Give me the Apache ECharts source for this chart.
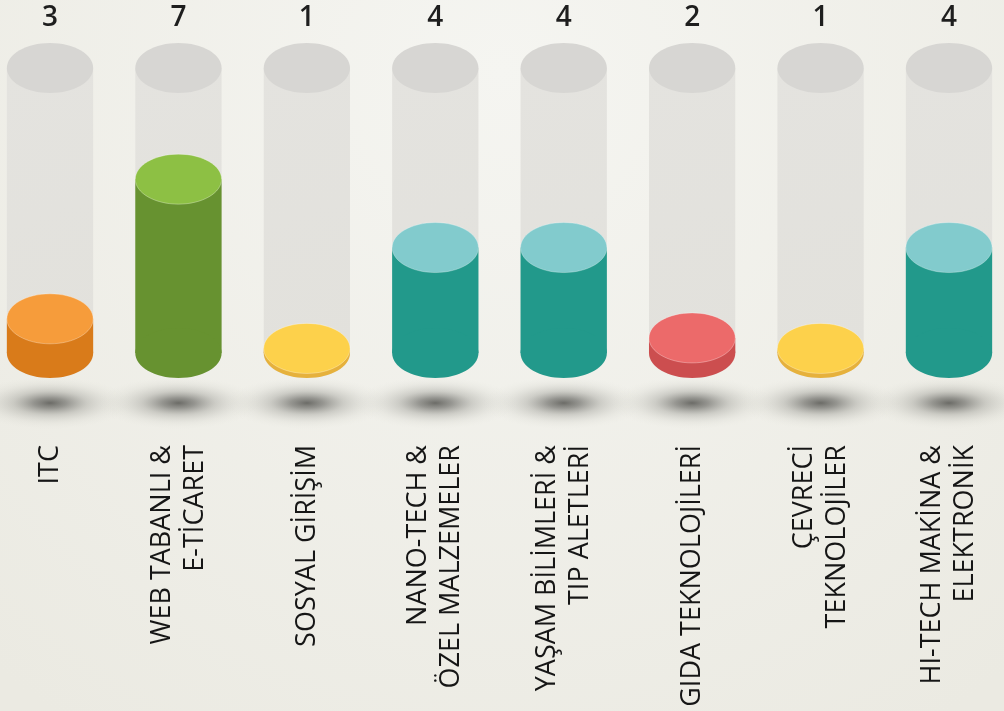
<!DOCTYPE html>
<html><head><meta charset="utf-8">
<script src="https://cdn.jsdelivr.net/npm/echarts@6/dist/echarts.min.js"></script>
<style>html,body{margin:0;padding:0;background:#f1f0ea}#c{width:1004px;height:711px}</style>
</head><body><div id="c"></div>
<script>
// ---- data ----
const categories = [
  'ITC',
  'WEB TABANLI &\nE-TİCARET',
  'SOSYAL GİRİŞİM',
  'NANO-TECH &\nÖZEL MALZEMELER',
  'YAŞAM BİLİMLERİ &\nTIP ALETLERİ',
  'GIDA TEKNOLOJİLERİ',
  'ÇEVRECİ\nTEKNOLOJİLER',
  'HI-TECH MAKİNA &\nELEKTRONİK'
];
const counts = [3, 7, 1, 4, 4, 2, 1, 4];
// fill level of each tube in % of tube height, as drawn in the picture
const fillLevels = [12, 61, 1.6, 37, 37, 5.3, 1.6, 37];
const tubeMax = 100;

// ---- styles ----
const topPalette  = ['#f69c3b', '#8dc044', '#fdd14b', '#82cbcd', '#82cbcd', '#ec6a6a', '#fdd14b', '#82cbcd'];
const sidePalette = ['#d97b1a', '#679230', '#e6b13c', '#22998b', '#22998b', '#cc4e4f', '#e6b13c', '#22998b'];

const chart = echarts.init(document.getElementById('c'), null, {renderer: 'canvas'});

function renderItem(params, api) {
  const i = api.value(0);
  const lvl = api.value(1);
  const base = api.coord([i, 0]);
  const top = api.coord([i, tubeMax]);
  const fill = api.coord([i, lvl]);
  const bw = api.size([1, 0])[0];
  const rx = bw * 0.336, ry = 25;
  const cx = base[0];
  const kids = [];
  kids.push({
    type: 'circle', silent: true,
    shape: {cx: 0, cy: 0, r: 82}, x: cx, y: base[1] + 50, scaleY: 0.32,
    style: {fill: {type: 'radial', x: 0.5, y: 0.5, r: 0.5, colorStops: [
      {offset: 0, color: 'rgba(70,70,66,0.78)'},
      {offset: 0.2, color: 'rgba(90,90,86,0.6)'},
      {offset: 0.45, color: 'rgba(130,130,124,0.32)'},
      {offset: 0.75, color: 'rgba(180,180,172,0.12)'},
      {offset: 1, color: 'rgba(220,220,210,0)'}]}}
  });
  const ghost = {type: 'linear', x: 0, y: 0, x2: 1, y2: 1, colorStops: [
    {offset: 0, color: '#e4e3df'}, {offset: 1, color: '#e2e1dc'}]};
  kids.push({type: 'rect', shape: {x: cx - rx, y: top[1], width: 2 * rx, height: base[1] - top[1]}, style: {fill: ghost}});
  kids.push({type: 'ellipse', shape: {cx: cx, cy: base[1], rx: rx, ry: ry}, style: {fill: '#e2e1dc'}});
  kids.push({type: 'ellipse', shape: {cx: cx, cy: top[1], rx: rx, ry: ry}, style: {fill: '#d7d6d3'}});
  kids.push({type: 'rect', shape: {x: cx - rx, y: fill[1], width: 2 * rx, height: base[1] - fill[1]}, style: {fill: sidePalette[i]}});
  kids.push({type: 'ellipse', shape: {cx: cx, cy: base[1], rx: rx, ry: ry}, style: {fill: sidePalette[i]}});
  kids.push({type: 'ellipse', shape: {cx: cx, cy: fill[1], rx: rx, ry: ry}, style: {fill: topPalette[i], stroke: 'rgba(255,255,255,0.3)', lineWidth: 1}});
  kids.push({type: 'text', x: cx, y: top[1] - 50,
    style: {text: String(counts[i]), fill: '#1e1e1e', font: '600 28px "Open Sans"', align: 'center', verticalAlign: 'middle'}});
  return {type: 'group', children: kids};
}

chart.setOption({
  backgroundColor: {type: 'radial', x: 0.5, y: 0.1, r: 1.1, colorStops: [
    {offset: 0, color: '#f5f5f1'}, {offset: 1, color: '#ebeae2'}]},
  animation: false,
  grid: {left: -14.2, right: -9.2, top: 68, bottom: 358, containLabel: false, outerBoundsMode: 'none'},
  xAxis: {
    type: 'category', data: categories,
    axisLine: {show: false}, axisTick: {show: false}, splitLine: {show: false},
    axisLabel: {interval: 0, rotate: 90, margin: 92, color: '#161616',
      fontFamily: 'Open Sans', fontSize: 27, lineHeight: 33, align: 'right', verticalAlign: 'middle'}
  },
  yAxis: {type: 'value', min: 0, max: tubeMax, show: false},
  series: [{
    type: 'custom', renderItem: renderItem, clip: false,
    data: fillLevels.map((v, i) => [i, v])
  }]
});
</script>
</body></html>
